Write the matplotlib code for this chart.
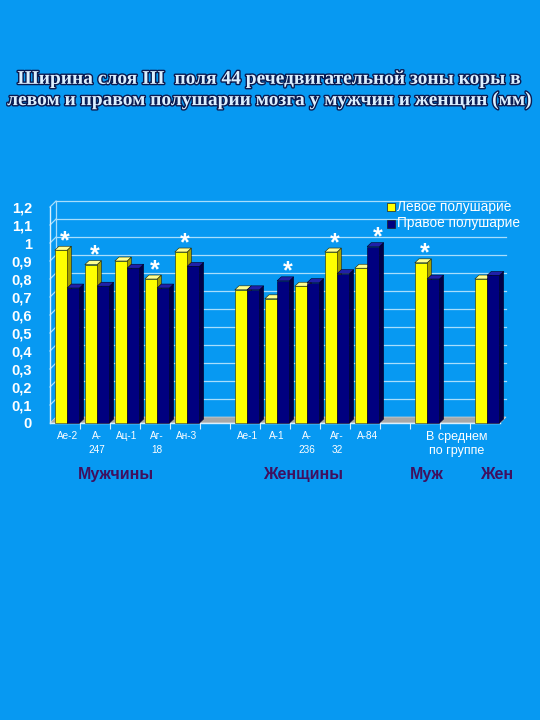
import matplotlib
matplotlib.use('Agg')
import matplotlib.pyplot as plt
import matplotlib.patheffects as pe
from matplotlib.patches import Polygon

# данные (мм)
categories = ['Ае-2', 'А-\n247', 'Ац-1', 'Аг-\n18', 'Ан-3', '',
              'Ае-1', 'А-1', 'А-\n236', 'Аг-\n32', 'А-84', '',
              '', 'В среднем\nпо группе', '']
left_hemi = [0.96, 0.88, 0.90, 0.80, 0.95, None,
             0.74, 0.69, 0.76, 0.95, 0.86, None,
             0.89, None, 0.80]
right_hemi = [0.75, 0.76, 0.86, 0.75, 0.87, None,
              0.74, 0.79, 0.78, 0.83, 0.98, None,
              0.80, None, 0.82]
# звёздочки: (индекс, 'L' или 'R')
stars = [(0, 'L'), (1, 'L'), (3, 'L'), (4, 'L'), (7, 'R'), (9, 'L'), (10, 'R'), (12, 'L')]
groups = ['Мужчины', 'Женщины', 'Муж', 'Жен']
group_pos = [1.7, 7.93, 12.07, 14.4]
yticks = [0, 0.1, 0.2, 0.3, 0.4, 0.5, 0.6, 0.7, 0.8, 0.9, 1.0, 1.1, 1.2]

BG = '#0799f2'
W, H = 540, 720
fig = plt.figure(figsize=(W / 100, H / 100), dpi=100, facecolor=BG)

# область графика в пикселях
x0, x1, yb, yt = 50, 500, 423, 207
ax = fig.add_axes([x0 / W, 1 - yb / H, (x1 - x0) / W, (yb - yt) / H])
ax.set_facecolor('none')
ax.set_xlim(-0.5, 14.5)
ax.set_ylim(0, 1.2)
for s in ax.spines.values():
    s.set_visible(False)

# глубина стенок и столбиков (3D эффект)
dxw, dyw = 0.2, 0.033
dxb, dyb = 0.14, 0.022

# пол
ax.add_patch(Polygon([(-0.5, 0), (14.5, 0), (14.5 + dxw, dyw), (-0.5 + dxw, dyw)],
                     closed=True, fc='#a8a8a8', ec='#d0d0d0', lw=0.6, clip_on=False, zorder=1))
# сетка на задней стенке
for v in yticks:
    if v == 0:
        continue
    ax.plot([-0.5 + dxw, 14.5 + dxw], [v + dyw, v + dyw], color='#a8defc', lw=0.9,
            clip_on=False, zorder=0.5)
    ax.plot([-0.5, -0.5 + dxw], [v, v + dyw], color='#a8defc', lw=0.9, clip_on=False, zorder=0.5)
ax.plot([-0.5 + dxw, -0.5 + dxw], [dyw, 1.2 + dyw], color='#a8defc', lw=0.9, clip_on=False, zorder=0.5)
ax.plot([-0.5, -0.5], [0, 1.2], color='#d8f0ff', lw=1.0, clip_on=False, zorder=2)
ax.plot([-0.5, 14.5], [0, 0], color='#d8f0ff', lw=1.0, clip_on=False, zorder=2)


def bar3d(x, w, h, front, top, side):
    ec = '#202000' if front == '#ffff00' else '#000020'
    ax.add_patch(Polygon([(x + w, 0), (x + w + dxb, dyb), (x + w + dxb, h + dyb), (x + w, h)],
                         closed=True, fc=side, ec=ec, lw=0.4, zorder=3, clip_on=False))
    ax.add_patch(Polygon([(x, h), (x + w, h), (x + w + dxb, h + dyb), (x + dxb, h + dyb)],
                         closed=True, fc=top, ec=ec, lw=0.4, zorder=3, clip_on=False))
    ax.add_patch(Polygon([(x, 0), (x + w, 0), (x + w, h), (x, h)],
                         closed=True, fc=front, ec=ec, lw=0.4, zorder=3, clip_on=False))


bw = 0.41
off = 0.07
for i in range(len(categories)):
    if left_hemi[i] is not None:
        bar3d(i + off - bw, bw, left_hemi[i], '#ffff00', '#ffff90', '#a8a000')
    if right_hemi[i] is not None:
        bar3d(i + off, bw, right_hemi[i], '#000080', '#2020a8', '#000048')

for i, side in stars:
    if side == 'L':
        xs, v = i + off - bw / 2 + dxb, left_hemi[i]
    else:
        xs, v = i + off + bw / 2 + dxb, right_hemi[i]
    ax.text(xs, v + 0.05, '*', color='white', fontsize=18, fontweight='bold',
            ha='center', va='center', family='Liberation Sans', zorder=5)

# оси
ax.set_yticks(yticks)
ax.set_yticklabels([('%g' % v).replace('.', ',') for v in yticks])
ax.tick_params(axis='y', length=0, pad=13, labelsize=10.5, labelcolor='white')
for t in ax.get_yticklabels():
    t.set_fontweight('bold')
    t.set_family('Liberation Sans')
ax.set_xticks([i + 0.5 for i in range(14)])
ax.set_xticklabels([])
ax.tick_params(axis='x', length=4, color='#d8f0ff', width=0.8)
for i, lab in enumerate(categories):
    if lab:
        fs = 9 if i == 13 else 7.2
        ax.text(i + off, -0.045, lab, color='white', fontsize=fs, ha='center', va='top',
                family='Liberation Sans', linespacing=1.2 if i == 13 else 1.45)

for g, p in zip(groups, group_pos):
    ax.text(p, -0.285, g, color='#40105e', fontsize=11.5, fontweight='bold', ha='center',
            va='center', family='Liberation Sans')

# легенда
lx = 392 / W
for k, (lab, c) in enumerate([('Левое полушарие', '#ffff00'), ('Правое полушарие', '#000080')]):
    yy = 1 - (207 + k * 16.5) / H
    fig.patches.append(plt.Rectangle((lx - 5 / W, yy - 4 / H), 8 / W, 8 / H, transform=fig.transFigure,
                                     fc=c, ec='#202020', lw=0.5))
    fig.text(lx + 5 / W, yy, lab, color='white', fontsize=9.8, va='center', ha='left',
             family='Liberation Sans')

# заголовок
title = 'Ширина слоя III  поля 44 речедвигательной зоны коры в\nлевом и правом полушарии мозга у мужчин и женщин (мм)'
fig.text(0.5, 1 - 90 / H, title, ha='center', va='center', fontsize=14, fontweight='bold',
         family='Liberation Serif', color='#dcf0ff', linespacing=1.3,
         path_effects=[pe.Stroke(linewidth=2.0, foreground='#0a1a50'), pe.Normal()])

fig.savefig('out.png', dpi=100, facecolor=BG)
